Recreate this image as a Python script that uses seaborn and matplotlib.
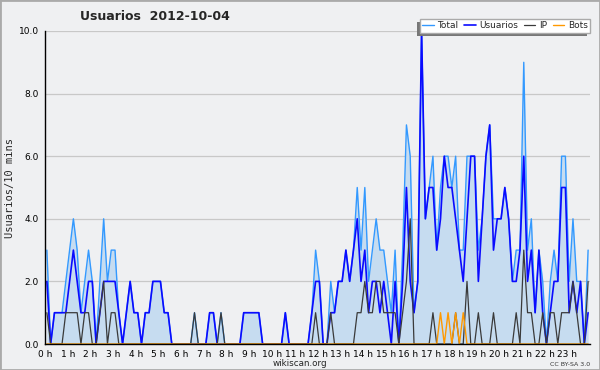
import numpy as np
import pandas as pd
import seaborn as sns
import matplotlib.pyplot as plt
from matplotlib.ticker import MultipleLocator, FormatStrFormatter
from matplotlib.patches import Rectangle

# minutes from 00:00, one point every 10 minutes
minutos = list(range(0, 1440, 10))

# values per 10 min slot, 6 per hour
total = [3, 0, 1, 1, 1, 2,   3, 4, 3, 1, 2, 3,   2, 0, 2, 4, 2, 3,   3, 1, 0, 1, 2, 1,
         1, 0, 1, 1, 2, 2,   2, 1, 1, 0, 0, 0,   0, 0, 0, 1, 0, 0,   0, 1, 1, 0, 1, 0,
         0, 0, 0, 0, 1, 1,   1, 1, 1, 0, 0, 0,   0, 0, 0, 1, 0, 0,   0, 0, 0, 0, 1, 3,
         2, 0, 0, 2, 1, 2,   2, 3, 2, 3, 5, 3,   5, 2, 3, 4, 3, 3,   2, 1, 3, 0, 3, 7,
         6, 1, 2, 10, 4, 5,  6, 3, 5, 6, 6, 5,   6, 3, 3, 6, 6, 6,   3, 4, 6, 7, 4, 4,
         4, 5, 4, 2, 3, 3,   9, 3, 4, 1, 3, 2,   0, 2, 3, 2, 6, 6,   2, 4, 2, 2, 0, 3]
usuarios = [2, 0, 1, 1, 1, 1,   2, 3, 2, 1, 1, 2,   2, 0, 1, 2, 2, 2,   2, 1, 0, 1, 2, 1,
            1, 0, 1, 1, 2, 2,   2, 1, 1, 0, 0, 0,   0, 0, 0, 0, 0, 0,   0, 1, 1, 0, 0, 0,
            0, 0, 0, 0, 1, 1,   1, 1, 1, 0, 0, 0,   0, 0, 0, 1, 0, 0,   0, 0, 0, 0, 1, 2,
            2, 0, 0, 1, 1, 2,   2, 3, 2, 3, 4, 2,   3, 1, 2, 2, 1, 2,   1, 0, 2, 0, 2, 5,
            2, 1, 2, 10, 4, 5,  5, 3, 4, 6, 5, 5,   4, 3, 2, 4, 6, 6,   2, 4, 6, 7, 3, 4,
            4, 5, 4, 2, 2, 3,   6, 2, 3, 1, 3, 1,   0, 1, 2, 2, 5, 5,   1, 2, 1, 2, 0, 1]
ip = [1, 0, 0, 0, 0, 1,   1, 1, 1, 0, 1, 1,   0, 0, 1, 2, 0, 1,   1, 0, 0, 0, 0, 0,
      0, 0, 0, 0, 0, 0,   0, 0, 0, 0, 0, 0,   0, 0, 0, 1, 0, 0,   0, 0, 0, 0, 1, 0,
      0, 0, 0, 0, 0, 0,   0, 0, 0, 0, 0, 0,   0, 0, 0, 0, 0, 0,   0, 0, 0, 0, 0, 1,
      0, 0, 0, 1, 0, 0,   0, 0, 0, 0, 1, 1,   2, 1, 1, 2, 2, 1,   1, 1, 1, 0, 1, 2,
      4, 0, 0, 0, 0, 0,   1, 0, 0, 0, 0, 0,   1, 0, 0, 2, 0, 0,   1, 0, 0, 0, 1, 0,
      0, 0, 0, 0, 1, 0,   3, 1, 1, 0, 0, 1,   0, 1, 1, 0, 1, 1,   1, 2, 1, 0, 0, 2]
bots = [0] * 104 + [1, 0, 1, 0, 1, 0, 1] + [0] * 33

horas = [f"{h} h" for h in range(24)]

bg = "#eff0f2"
c_total = "#3399ff"
c_fill = "#c6dcf0"
c_usu = "#0a0aff"
c_ip = "#3a3a3a"
c_bots = "#ff9900"

sns.set_style("white", {"axes.facecolor": bg, "figure.facecolor": bg})
plt.rcParams["font.family"] = ["DejaVu Sans"]

df = pd.DataFrame({"x": [(m + 5) / 60 for m in minutos], "Total": total,
                   "Usuarios": usuarios, "IP": ip, "Bots": bots})

fig = plt.figure(figsize=(6, 3.7), dpi=100)
ax = fig.add_axes([45 / 600, 1 - 344 / 370, 545 / 600, 313 / 370])

ax.fill_between(df["x"], df["Total"], color=c_fill, lw=0, zorder=1)
sns.lineplot(data=df, x="x", y="Total", ax=ax, color=c_total, lw=1.0, label="Total")
sns.lineplot(data=df, x="x", y="Usuarios", ax=ax, color=c_usu, lw=1.2, label="Usuarios")
sns.lineplot(data=df, x="x", y="IP", ax=ax, color=c_ip, lw=0.9, label="IP")
sns.lineplot(data=df, x="x", y="Bots", ax=ax, color=c_bots, lw=1.0, label="Bots")

ax.set_xlim(0, 24)
ax.set_ylim(0, 10)
ax.xaxis.set_minor_locator(MultipleLocator(1 / 6))
ax.set_xticks(range(24))
ax.set_xticklabels(horas)
ax.yaxis.set_major_locator(MultipleLocator(2))
ax.yaxis.set_minor_locator(MultipleLocator(0.5))
ax.yaxis.set_major_formatter(FormatStrFormatter("%.1f"))
ax.tick_params(axis="both", which="major", direction="out", length=3.5, width=1,
               labelsize=6.5, pad=1, colors="black")
ax.tick_params(axis="both", which="minor", direction="out", length=2.2, width=0.8)
ax.tick_params(axis="x", which="major", pad=0.5)
ax.grid(axis="y", which="major", color="#c8c8c8", lw=0.9)
ax.grid(axis="x", visible=False)
for s in ["top", "right"]:
    ax.spines[s].set_visible(False)
for s in ["left", "bottom"]:
    ax.spines[s].set_color("black")
    ax.spines[s].set_linewidth(1)

ax.set_xlabel("")
ax.set_ylabel("")
fig.text(10 / 600, 1 - 188 / 370, "Usuarios/10 mins", rotation=90, va="center",
         ha="center", fontsize=7.5, family="DejaVu Sans Mono")
fig.text(155 / 600, 1 - 16 / 370, "Usuarios  2012-10-04", ha="center", va="center",
         fontsize=9, fontweight="bold")
fig.text(300 / 600, 1 - 364 / 370, "wikiscan.org", ha="center", va="center", fontsize=6.3)
fig.text(590 / 600, 1 - 364 / 370, "CC BY-SA 3.0", ha="right", va="center",
         fontsize=4.5, color="#333333")

handles, labels = ax.get_legend_handles_labels()
ax.get_legend().remove()
leg = fig.legend(handles, labels, loc="upper right", ncol=4,
                 bbox_to_anchor=(590 / 600, 1 - 19 / 370), fontsize=6.5,
                 frameon=True, fancybox=False, edgecolor="#aaaaaa",
                 handlelength=1.3, handletextpad=0.4, columnspacing=0.6,
                 borderpad=0.25, borderaxespad=0)
leg.get_frame().set_facecolor("white")
leg.get_frame().set_alpha(1)
leg.set_zorder(5)

fig.canvas.draw()
bb = leg.get_window_extent()
shadow = Rectangle((bb.x0 - 3, bb.y0 - 3), bb.width, bb.height, transform=None,
                   facecolor="#777777", edgecolor="none", zorder=4)
fig.add_artist(shadow)

fig.add_artist(Rectangle((0, 0), 1, 1, transform=fig.transFigure, fill=False,
                         edgecolor="#aaaaaa", lw=2, zorder=10))

fig.savefig("out.png", dpi=100, facecolor=bg)
